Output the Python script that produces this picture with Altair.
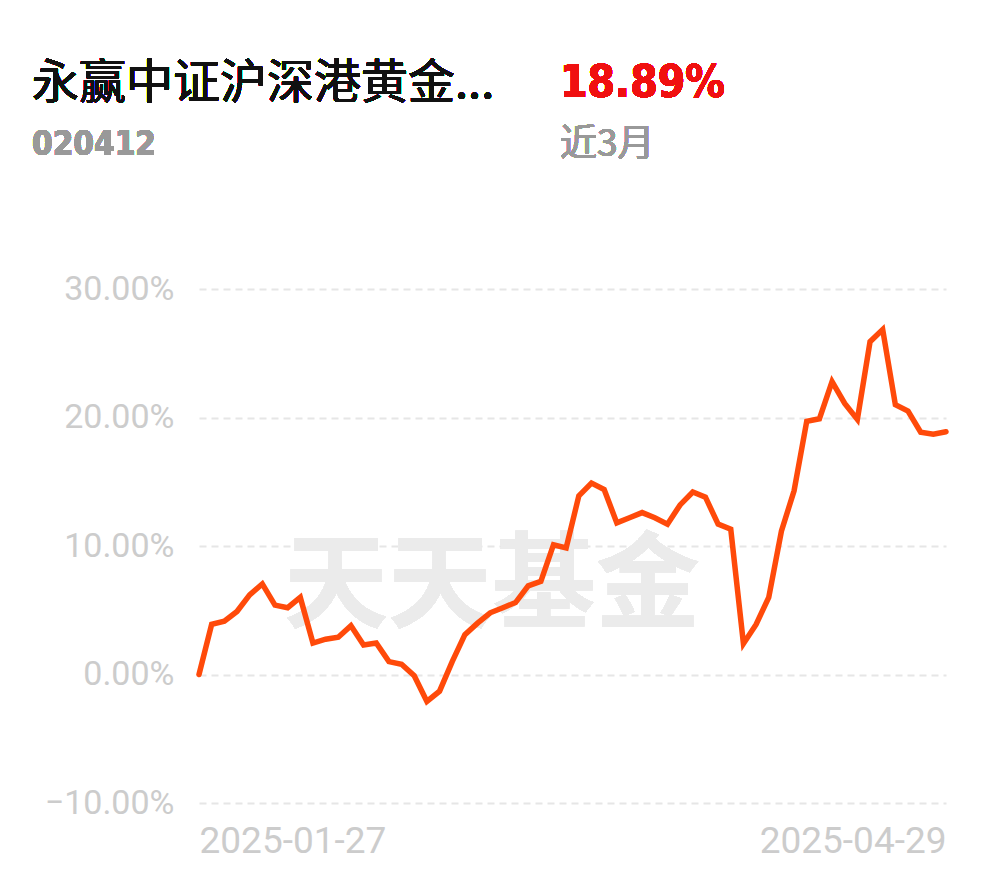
import altair as alt
import pandas as pd

# Cumulative return (%) for each trading day, 2025-01-27 .. 2025-04-29
returns = [0, 3.9, 4.15, 4.9, 6.2, 7.05, 5.4, 5.2, 6.0, 2.45,
           2.75, 2.9, 3.8, 2.3, 2.45, 1.0, 0.8, -0.1, -2.1, -1.3,
           1.0, 3.1, 4.0, 4.8, 5.2, 5.6, 6.9, 7.25, 10.1, 9.85,
           13.9, 14.9, 14.4, 11.8, 12.2, 12.6, 12.2, 11.7, 13.2, 14.2,
           13.8, 11.7, 11.3, 2.4, 3.9, 6.0, 11.15, 14.3, 19.7, 19.9,
           22.8, 21.1, 19.85, 25.9, 26.85, 21.0, 20.5, 18.85, 18.7, 18.89]
date_labels = ["2025-01-27", "2025-04-29"]
y_ticks = [-10, 0, 10, 20, 30]

fund_name = "永赢中证沪深港黄金..."
fund_code = "020412"
period_return = "18.89%"
period_label = "近3月"
watermark = "天天基金"

df = pd.DataFrame({"i": list(range(len(returns))), "r": returns})
n_last = len(returns) - 1

cond_font = "'DejaVu Sans Condensed', Roboto, sans-serif"

x_enc = alt.X("i:Q", scale=alt.Scale(domain=[0, n_last], nice=False, zero=False),
              axis=alt.Axis(values=[0, n_last], title=None, grid=False, domain=False, ticks=False,
                            labelFlush=True, labelPadding=20, labelFontSize=37, labelFont="Roboto",
                            labelColor="#cccccc", labelLimit=0,
                            labelExpr=f"datum.value == 0 ? '{date_labels[0]}' : '{date_labels[1]}'"))
y_enc = alt.Y("r:Q", scale=alt.Scale(domain=[-10, 30], nice=False),
              axis=alt.Axis(values=y_ticks, title=None, domain=False, ticks=False,
                            grid=True, gridDash=[7, 5], gridColor="#e6e6e6", gridWidth=2,
                            labelPadding=25, labelFontSize=34, labelFont="Roboto",
                            labelColor="#cccccc", labelLimit=0,
                            labelExpr="format(datum.value, '.2f') + '%'"))

base = alt.Chart(df)

wm = base.mark_text(text=watermark, font="Noto Sans CJK SC", fontSize=104, fontWeight="bold",
                    color="#ebebeb", align="center", baseline="middle").encode(
    x=alt.value(293), y=alt.value(300))

line = base.mark_line(color="#ff4a0a", strokeWidth=5.5, strokeJoin="miter", strokeCap="round").encode(
    x=x_enc, y=y_enc)

t1 = base.mark_text(text=fund_name, font="Noto Sans CJK SC", fontSize=47, color="#111111",
                    align="left", baseline="middle").encode(x=alt.value(-167), y=alt.value(-205))
t2 = base.mark_text(text=fund_code, font=cond_font, fontSize=33, fontWeight="bold",
                    color="#999999", align="left", baseline="middle").encode(x=alt.value(-167), y=alt.value(-144))
t3 = base.mark_text(text=period_return, font=cond_font, fontSize=44, fontWeight="bold",
                    color="#f01010", align="left", baseline="middle").encode(x=alt.value(361), y=alt.value(-205))
t4 = base.mark_text(text=period_label, font="Noto Sans CJK SC", fontSize=37,
                    color="#999999", align="left", baseline="middle").encode(x=alt.value(361), y=alt.value(-144))

chart = alt.layer(wm, line, t1, t2, t3, t4).properties(
    width=747, height=514,
    autosize=alt.AutoSizeParams(type="none"),
    padding={"left": 191, "top": 281, "right": 30, "bottom": 60},
).configure_view(stroke=None)

chart.save("out.html", embed_options={"renderer": "svg", "actions": False})
